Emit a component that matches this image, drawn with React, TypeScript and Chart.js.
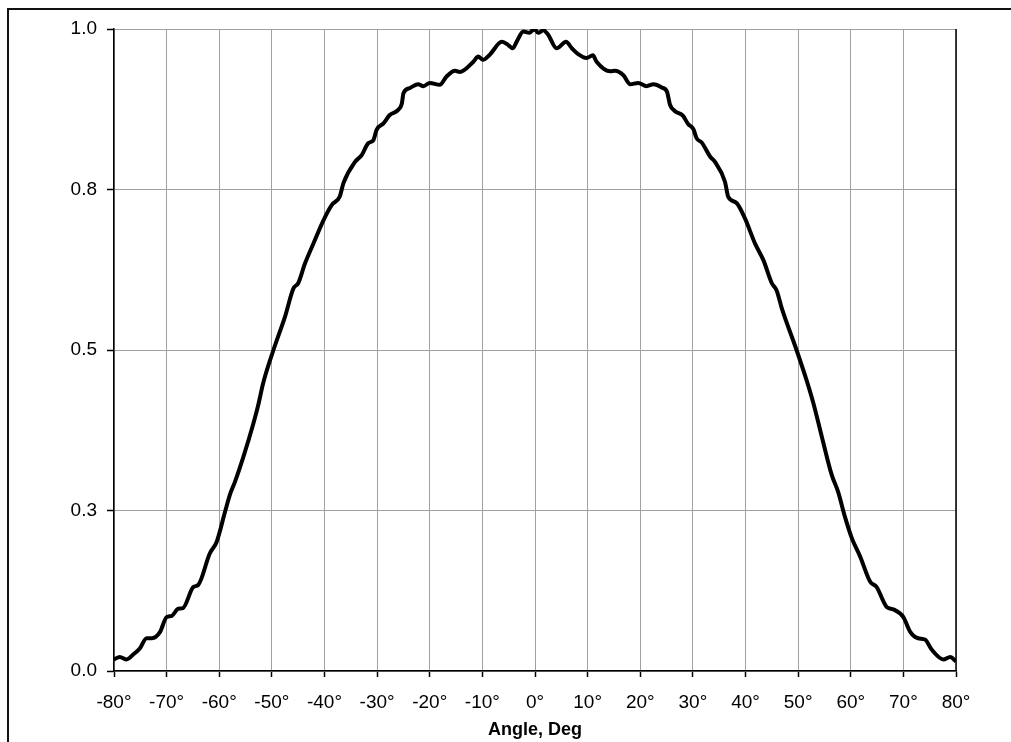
import React, { useEffect, useRef } from "react";
import { Chart, registerables } from "chart.js";

Chart.register(...registerables);

const angles: number[] = [
  -80, -78.9, -77.6, -76.3, -75.1, -73.8, -72.8, -71.3, -70.0, -69.0, -67.8, -66.9,
  -64.9, -64.0, -61.8, -60.5, -58.9, -58.0, -57.0, -55.4, -53.5, -52.6, -51.6, -49.7,
  -47.5, -45.9, -45.0, -43.7, -42.1, -40.2, -38.6, -37.1, -36.4, -34.2, -32.9, -31.7,
  -30.7, -30.1, -28.8, -27.6, -26.0, -25.3, -25.0, -23.8, -22.2, -21.2, -20.0, -18.1,
  -16.8, -15.2, -14.3, -11.7, -10.8, -9.9, -8.6, -6.3, -5.4, -4.2, -3.5, -2.2,
  -1.1, -0.1, 0.6, 1.6, 2.5, 4.1, 5.9, 7.0, 8.2, 9.8, 11.0, 11.7,
  14.3, 15.2, 16.8, 18.1, 19.6, 21.2, 22.5, 24.1, 25.1, 25.65, 26.6, 28.1,
  29.1, 30.1, 30.7, 31.7, 33.3, 34.2, 36.1, 36.7, 38.3, 39.9, 41.8, 43.4,
  45.0, 45.9, 46.9, 49.7, 51.6, 52.9, 54.5, 56.4, 57.6, 58.9, 60.2, 61.8,
  63.7, 64.9, 66.8, 68.1, 70.0, 71.3, 72.8, 74.1, 75.4, 77.6, 78.9, 80,
];

const intensity: number[] = [
  0.018, 0.022, 0.018, 0.026, 0.035, 0.051, 0.051, 0.06, 0.084, 0.086, 0.097, 0.098,
  0.131, 0.134, 0.183, 0.201, 0.248, 0.274, 0.295, 0.334, 0.386, 0.414, 0.45, 0.5,
  0.552, 0.596, 0.604, 0.635, 0.666, 0.702, 0.726, 0.739, 0.76, 0.793, 0.804, 0.822,
  0.827, 0.843, 0.853, 0.866, 0.874, 0.884, 0.9, 0.908, 0.914, 0.911, 0.916, 0.913,
  0.926, 0.935, 0.933, 0.949, 0.957, 0.952, 0.96, 0.98, 0.977, 0.97, 0.98, 0.996,
  0.994, 1.0, 0.994, 0.998, 0.991, 0.97, 0.98, 0.97, 0.961, 0.955, 0.959, 0.949,
  0.934, 0.935, 0.928, 0.914, 0.916, 0.911, 0.914, 0.909, 0.902, 0.882, 0.872, 0.865,
  0.852, 0.844, 0.83, 0.823, 0.801, 0.793, 0.762, 0.739, 0.729, 0.705, 0.666, 0.64,
  0.604, 0.593, 0.565, 0.5, 0.453, 0.417, 0.365, 0.305, 0.279, 0.24, 0.207, 0.178,
  0.139, 0.131, 0.1, 0.096, 0.084, 0.061, 0.051, 0.049, 0.033, 0.018, 0.022, 0.015,
];

const xTickValues: number[] = [-80, -70, -60, -50, -40, -30, -20, -10, 0, 10, 20, 30, 40, 50, 60, 70, 80];
const xTickLabels: string[] = ["-80°", "-70°", "-60°", "-50°", "-40°", "-30°", "-20°", "-10°", "0°", "10°", "20°", "30°", "40°", "50°", "60°", "70°", "80°"];
const yTickValues: number[] = [0, 0.25, 0.5, 0.75, 1.0];
const yTickLabels: string[] = ["0.0", "0.3", "0.5", "0.8", "1.0"];
const xAxisTitle = "Angle, Deg";

const FONT = "'Liberation Sans', Arial, sans-serif";

const rightBorder = {
  id: "rightBorder",
  afterDraw(chart: any) {
    const { ctx, chartArea } = chart;
    ctx.save();
    ctx.strokeStyle = "#000";
    ctx.lineWidth = 1.5;
    ctx.beginPath();
    ctx.moveTo(chartArea.right, chartArea.top);
    ctx.lineTo(chartArea.right, chartArea.bottom);
    ctx.stroke();
    ctx.restore();
  },
};

export default function App() {
  const ref = useRef<HTMLCanvasElement | null>(null);

  useEffect(() => {
    if (!ref.current) return;
    const chart = new Chart(ref.current, {
      type: "line",
      data: {
        datasets: [
          {
            data: angles.map((a, i) => ({ x: a, y: intensity[i] })),
            borderColor: "#000",
            borderWidth: 4,
            pointRadius: 0,
            fill: false,
            cubicInterpolationMode: "monotone",
          },
        ],
      },
      options: {
        animation: false,
        responsive: false,
        maintainAspectRatio: false,
        layout: { padding: { left: 0, right: 55, top: 29, bottom: 0 } },
        plugins: { legend: { display: false }, tooltip: { enabled: false } },
        scales: {
          x: {
            type: "linear",
            min: -80,
            max: 80,
            afterBuildTicks: (scale: any) => {
              scale.ticks = xTickValues.map((v) => ({ value: v }));
            },
            afterFit: (scale: any) => {
              scale.height = 71;
            },
            ticks: {
              callback: (v: any) => {
                const i = xTickValues.indexOf(Number(v));
                return i >= 0 ? xTickLabels[i] : "";
              },
              color: "#000",
              font: { family: FONT, size: 19 },
              padding: 14,
              maxRotation: 0,
              autoSkip: false,
            },
            grid: { color: "#a0a0a0", lineWidth: 1, tickLength: 6, tickColor: "#000", tickWidth: 1.5 },
            border: { color: "#000", width: 1.5 },
            title: {
              display: true,
              text: xAxisTitle,
              color: "#000",
              font: { family: FONT, size: 18, weight: "bold" },
              padding: { top: 0, bottom: 1 },
            },
          },
          y: {
            type: "linear",
            min: 0,
            max: 1,
            afterBuildTicks: (scale: any) => {
              scale.ticks = yTickValues.map((v) => ({ value: v }));
            },
            afterFit: (scale: any) => {
              scale.width = 114;
            },
            ticks: {
              callback: (v: any) => {
                const i = yTickValues.indexOf(Number(v));
                return i >= 0 ? yTickLabels[i] : "";
              },
              color: "#000",
              font: { family: FONT, size: 19 },
              padding: 10,
            },
            grid: { color: "#a0a0a0", lineWidth: 1, tickLength: 7, tickColor: "#000", tickWidth: 1.5 },
            border: { color: "#000", width: 1.5 },
          },
        },
      },
      plugins: [rightBorder],
    });
    return () => chart.destroy();
  }, []);

  return (
    <div style={{ position: "absolute", left: 0, top: 0, width: 1011, height: 742, overflow: "hidden", background: "#fff" }}>
      <div
        style={{
          position: "absolute",
          left: 7,
          top: 8,
          width: 1100,
          height: 800,
          borderTop: "2px solid #111",
          borderLeft: "2px solid #111",
        }}
      />
      <canvas ref={ref} width={1011} height={742} style={{ position: "absolute", left: 0, top: 0, width: 1011, height: 742 }} />
    </div>
  );
}
